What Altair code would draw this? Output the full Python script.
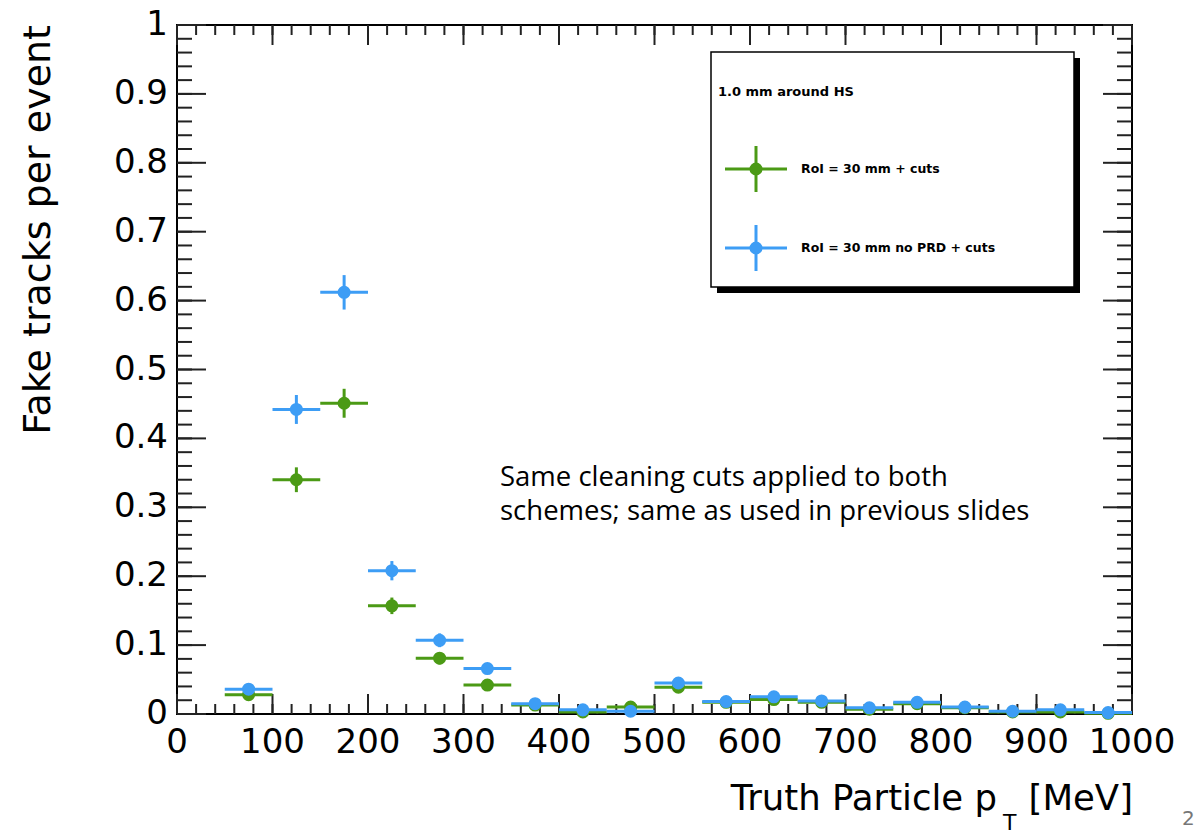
import altair as alt
import pandas as pd

# ---------------- data ----------------
bin_low = [50, 100, 150, 200, 250, 300, 350, 400, 450, 500, 550, 600, 650, 700, 750, 800, 850, 900, 950]
bin_high = [100, 150, 200, 250, 300, 350, 400, 450, 500, 550, 600, 650, 700, 750, 800, 850, 900, 950, 1000]
bin_center = [75, 125, 175, 225, 275, 325, 375, 425, 475, 525, 575, 625, 675, 725, 775, 825, 875, 925, 975]

green_vals = [0.028, 0.340, 0.451, 0.157, 0.081, 0.042, 0.013, 0.003, 0.010, 0.039, 0.017, 0.021,
              0.017, 0.007, 0.015, 0.009, 0.003, 0.003, 0.001]
green_errs = [0.005, 0.018, 0.021, 0.012, 0.009, 0.006, 0.004, 0.002, 0.003, 0.006, 0.004, 0.004,
              0.004, 0.003, 0.004, 0.003, 0.002, 0.002, 0.001]
blue_vals = [0.036, 0.442, 0.612, 0.208, 0.107, 0.066, 0.015, 0.006, 0.004, 0.045, 0.018, 0.025,
             0.019, 0.009, 0.017, 0.010, 0.004, 0.006, 0.002]
blue_errs = [0.006, 0.021, 0.025, 0.014, 0.010, 0.008, 0.004, 0.003, 0.002, 0.007, 0.004, 0.005,
             0.004, 0.003, 0.004, 0.003, 0.002, 0.002, 0.001]

series_names = ["RoI = 30 mm + cuts", "RoI = 30 mm no PRD + cuts"]
series_colors = ["#4b9a15", "#3d9df5"]
legend_title = "1.0 mm around HS"
note_text = "Same cleaning cuts applied to both\nschemes; same as used in previous slides"

x_major = [0, 100, 200, 300, 400, 500, 600, 700, 800, 900, 1000]
x_labels = ["0", "100", "200", "300", "400", "500", "600", "700", "800", "900", "1000"]
x_minor = list(range(0, 1001, 20))
y_major = [0, 0.1, 0.2, 0.3, 0.4, 0.5, 0.6, 0.7, 0.8, 0.9, 1.0]
y_labels = ["0", "0.1", "0.2", "0.3", "0.4", "0.5", "0.6", "0.7", "0.8", "0.9", "1"]
y_minor = [round(i * 0.02, 2) for i in range(51)]

# ---------------- layout ----------------
W, H = 955, 689
FONT = "DejaVu Sans"
TICK = "#222222"

xs = alt.Scale(domain=[0, 1000], nice=False, zero=False)
ys = alt.Scale(domain=[0, 1], nice=False, zero=False)


def series_df(vals, errs):
    return pd.DataFrame({
        "lo": bin_low, "hi": bin_high, "pt": bin_center, "val": vals,
        "ylo": [v - e for v, e in zip(vals, errs)],
        "yhi": [v + e for v, e in zip(vals, errs)],
    })


def series_layers(df, color):
    base = alt.Chart(df)
    h = base.mark_rule(color=color, strokeWidth=3).encode(
        x=alt.X("lo:Q", scale=xs, axis=None), x2="hi:Q",
        y=alt.Y("val:Q", scale=ys, axis=None))
    v = base.mark_rule(color=color, strokeWidth=3).encode(
        x=alt.X("pt:Q", scale=xs, axis=None),
        y=alt.Y("ylo:Q", scale=ys, axis=None), y2="yhi:Q")
    p = base.mark_circle(color=color, size=170, opacity=1).encode(
        x=alt.X("pt:Q", scale=xs, axis=None),
        y=alt.Y("val:Q", scale=ys, axis=None))
    return [h, v, p]


def xticks(vals, length, top):
    df = pd.DataFrame({"v": vals})
    if top:
        yy, yy2 = alt.value(0), alt.value(length)
    else:
        yy, yy2 = alt.value(H), alt.value(H - length)
    return alt.Chart(df).mark_rule(color=TICK, strokeWidth=2).encode(
        x=alt.X("v:Q", scale=xs, axis=None), y=yy, y2=yy2)


def yticks(vals, length, right):
    df = pd.DataFrame({"v": vals})
    if right:
        xx, xx2 = alt.value(W), alt.value(W - length)
    else:
        xx, xx2 = alt.value(0), alt.value(length)
    return alt.Chart(df).mark_rule(color=TICK, strokeWidth=2).encode(
        y=alt.Y("v:Q", scale=ys, axis=None), x=xx, x2=xx2)


layers = [
    xticks(x_major, 20, False),
    xticks(x_minor, 10, False),
    xticks(x_major, 20, True),
    xticks(x_minor, 10, True),
    yticks(y_major, 29, False),
    yticks(y_minor, 15, False),
    yticks(y_major, 29, True),
    yticks(y_minor, 15, True),
]

# tick labels
xl_df = pd.DataFrame({"v": x_major, "lab": x_labels})
layers.append(alt.Chart(xl_df).mark_text(font=FONT, fontSize=34, align="center", baseline="top",
                                         color="black").encode(
    x=alt.X("v:Q", scale=xs, axis=None), y=alt.value(H + 12), text="lab:N"))
yl_df = pd.DataFrame({"v": y_major, "lab": y_labels})
layers.append(alt.Chart(yl_df).mark_text(font=FONT, fontSize=34, align="right", baseline="middle",
                                         color="black").encode(
    y=alt.Y("v:Q", scale=ys, axis=None), x=alt.value(-9), text="lab:N"))

# legend box with shadow
box_df = pd.DataFrame({"title": [legend_title]})
layers.append(alt.Chart(box_df).mark_rect(fill="black").encode(
    x=alt.value(540), x2=alt.value(903), y=alt.value(33), y2=alt.value(268)))
layers.append(alt.Chart(box_df).mark_rect(fill="white", stroke="black", strokeWidth=1.5).encode(
    x=alt.value(534), x2=alt.value(897), y=alt.value(27), y2=alt.value(262)))
layers.append(alt.Chart(box_df).mark_text(font=FONT, fontSize=13, fontWeight="bold", align="left",
                                          baseline="middle", color="black").encode(
    x=alt.value(541), y=alt.value(67), text="title:N"))

legend_rows = [144, 223]
for name, color, ly in zip(series_names, series_colors, legend_rows):
    ldf = pd.DataFrame({"name": [name]})
    b = alt.Chart(ldf)
    layers.append(b.mark_rule(color=color, strokeWidth=3).encode(
        x=alt.value(548), x2=alt.value(610), y=alt.value(ly)))
    layers.append(b.mark_rule(color=color, strokeWidth=3).encode(
        x=alt.value(579), y=alt.value(ly - 23), y2=alt.value(ly + 23)))
    layers.append(b.mark_point(shape="circle", filled=True, color=color, size=170, opacity=1).encode(
        x=alt.value(579), y=alt.value(ly)))
    layers.append(b.mark_text(font=FONT, fontSize=12.5, fontWeight="bold", align="left",
                              baseline="middle", color="black").encode(
        x=alt.value(624), y=alt.value(ly), text="name:N"))

# data series (blue drawn on top)
layers += series_layers(series_df(green_vals, green_errs), series_colors[0])
layers += series_layers(series_df(blue_vals, blue_errs), series_colors[1])

# annotation
note_df = pd.DataFrame({"t": [note_text]})
layers.append(alt.Chart(note_df).mark_text(font="Open Sans", fontSize=27.5, align="left",
                                           baseline="middle", lineBreak="\n", lineHeight=34,
                                           color="black").encode(
    x=alt.value(323), y=alt.value(453), text="t:N"))

# axis titles
title_df = pd.DataFrame({"a": ["Fake tracks per event"], "b": ["Truth Particle p"],
                         "c": ["T"], "d": ["[MeV]"], "e": ["2"]})
tb = alt.Chart(title_df)
layers.append(tb.mark_text(font=FONT, fontSize=38, angle=270, align="right", baseline="middle",
                           color="black").encode(x=alt.value(-138), y=alt.value(0), text="a:N"))
layers.append(tb.mark_text(font=FONT, fontSize=35.5, align="right", baseline="alphabetic",
                           color="black").encode(x=alt.value(820), y=alt.value(785), text="b:N"))
layers.append(tb.mark_text(font=FONT, fontSize=22, align="left", baseline="alphabetic",
                           color="black").encode(x=alt.value(826), y=alt.value(805), text="c:N"))
layers.append(tb.mark_text(font=FONT, fontSize=35.5, align="right", baseline="alphabetic",
                           color="black").encode(x=alt.value(956), y=alt.value(785), text="d:N"))
layers.append(tb.mark_text(font=FONT, fontSize=20, align="left", baseline="alphabetic",
                           color="#777777").encode(x=alt.value(1005), y=alt.value(800), text="e:N"))

chart = alt.layer(*layers).properties(
    width=W, height=H,
    padding={"left": 177, "top": 25, "right": 66, "bottom": 122},
    autosize=alt.AutoSizeParams(type="none"),
    background="white",
).configure_view(stroke="black", strokeWidth=2)

chart.save("out.html", embed_options={"renderer": "svg", "actions": False})
